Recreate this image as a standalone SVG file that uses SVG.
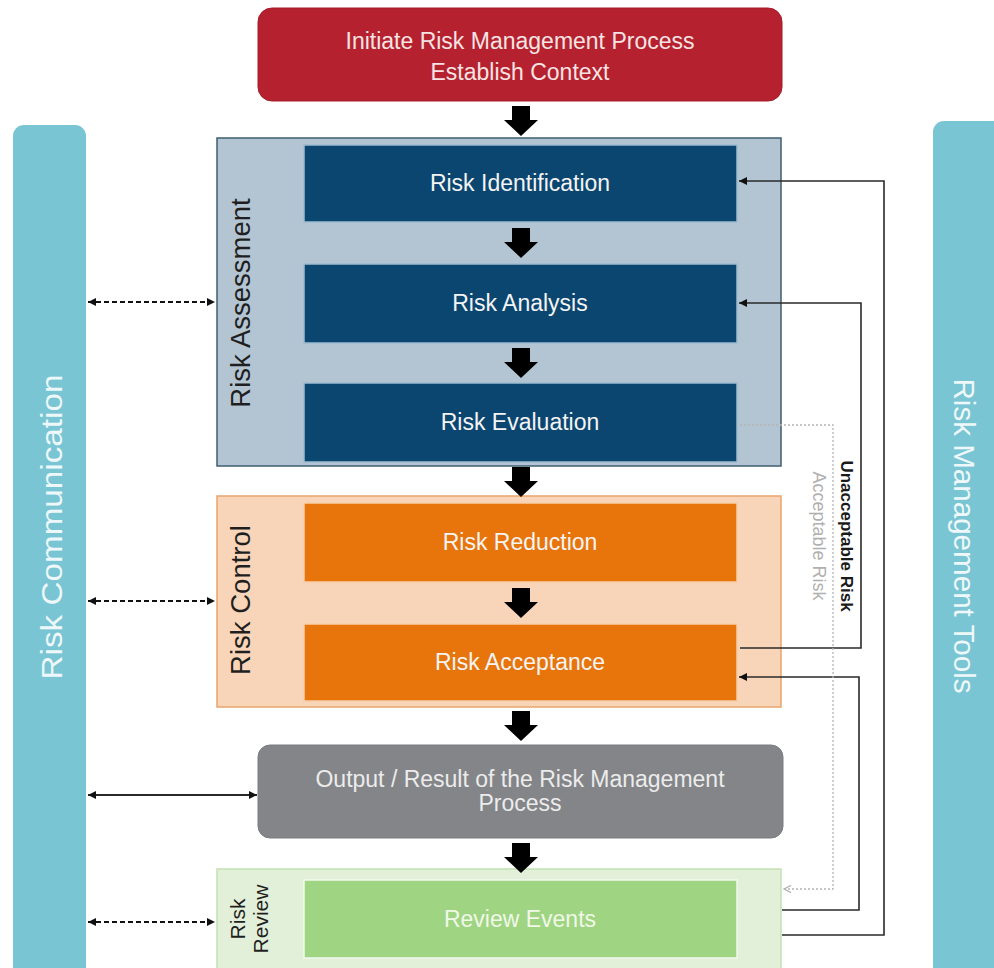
<svg xmlns="http://www.w3.org/2000/svg" width="994" height="968" viewBox="0 0 994 968">
<defs>
<style>
text{font-family:"Liberation Sans",Arial,sans-serif}
.nt{font-size:23px;fill:#f4f4f4;text-anchor:middle}
.sec{font-size:27.5px;fill:#1f1f1f;text-anchor:middle}
.bar{fill:#79c5d3}
.bt{font-size:30px;fill:#eef8fa;text-anchor:middle}
.navy{fill:#0b4670;stroke:#9fbcd0;stroke-width:1.5}
.orng{fill:#e8740c;stroke:#f7cfa8;stroke-width:1.5}
.ln{fill:none;stroke:#2a2a2a;stroke-width:1.6}
.dash{fill:none;stroke:#111;stroke-width:2;stroke-dasharray:5 3}
.dot{fill:none;stroke:#b4b4b4;stroke-width:1.3;stroke-dasharray:2 2}
.blk{fill:#000}
</style>
<marker id="ah" viewBox="0 0 10 10" refX="10" refY="5" markerWidth="9" markerHeight="8" markerUnits="userSpaceOnUse" orient="auto-start-reverse"><path d="M0,0 L10,5 L0,10 z" fill="#111"/></marker>
<marker id="ahg" viewBox="0 0 10 10" refX="10" refY="5" markerWidth="10" markerHeight="9" markerUnits="userSpaceOnUse" orient="auto"><path d="M1,1 L9,5 L1,9" fill="none" stroke="#b4b4b4" stroke-width="1.5"/></marker>
<path id="barrow" d="M-9,0 H9 V14 H17 L0,30 L-17,14 H-9 Z"/>
</defs>

<g id="risk-communication">
<rect class="bar" x="13" y="125" width="73" height="860" rx="11"/>
<text class="bt" transform="translate(62,527) rotate(-90)" textLength="305" lengthAdjust="spacingAndGlyphs">Risk Communication</text>
</g>

<g id="risk-management-tools">
<rect class="bar" x="933" y="121" width="80" height="864" rx="11"/>
<text class="bt" transform="translate(954,536) rotate(90)" textLength="315" lengthAdjust="spacingAndGlyphs">Risk Management Tools</text>
</g>

<g id="initiate">
<rect x="258" y="8" width="524" height="93" rx="14" fill="#b5212e" stroke="#a31d28" stroke-width="1"/>
<text class="nt" x="520" y="49" style="fill:#f6e4e4">Initiate Risk Management Process</text>
<text class="nt" x="520" y="80" style="fill:#f6e4e4">Establish Context</text>
</g>

<g id="risk-assessment">
<rect x="217" y="138" width="564" height="328" fill="#b3c5d2" stroke="#3f5d70" stroke-width="1.5"/>
<text class="sec" transform="translate(250,303) rotate(-90)">Risk Assessment</text>
</g>
<g id="risk-identification">
<rect class="navy" x="304" y="145" width="433" height="77"/>
<text class="nt" x="520" y="191">Risk Identification</text>
</g>
<g id="risk-analysis">
<rect class="navy" x="304" y="264" width="433" height="79"/>
<text class="nt" x="520" y="311">Risk Analysis</text>
</g>
<g id="risk-evaluation">
<rect class="navy" x="304" y="383" width="433" height="79"/>
<text class="nt" x="520" y="430">Risk Evaluation</text>
</g>

<g id="risk-control">
<rect x="217" y="496" width="564" height="211" fill="#f8d5b8" stroke="#e9a46b" stroke-width="1.5"/>
<text class="sec" transform="translate(250,600) rotate(-90)">Risk Control</text>
</g>
<g id="risk-reduction">
<rect class="orng" x="304" y="503" width="433" height="79"/>
<text class="nt" x="520" y="550">Risk Reduction</text>
</g>
<g id="risk-acceptance">
<rect class="orng" x="304" y="624" width="433" height="77"/>
<text class="nt" x="520" y="670">Risk Acceptance</text>
</g>

<g id="output">
<rect x="258" y="745" width="525" height="93" rx="12" fill="#838588" stroke="#7a7c7f" stroke-width="1"/>
<text class="nt" x="520" y="787" style="fill:#ececec">Output / Result of the Risk Management</text>
<text class="nt" x="520" y="811" style="fill:#ececec">Process</text>
</g>

<g id="risk-review">
<rect x="217" y="869" width="564" height="110" fill="#e3f0d9" stroke="#c4e0b1" stroke-width="1.5"/>
<text transform="translate(245,919) rotate(-90)" style="font-size:21px;fill:#1f1f1f;text-anchor:middle">Risk</text>
<text transform="translate(268,919) rotate(-90)" style="font-size:21px;fill:#1f1f1f;text-anchor:middle">Review</text>
</g>
<g id="review-events">
<rect x="304" y="880" width="433" height="78" fill="#9fd482" stroke="#f2f9ec" stroke-width="1.5"/>
<text class="nt" x="520" y="927" style="fill:#f0f8e8">Review Events</text>
</g>

<g id="connectors">
<use href="#barrow" class="blk" x="521" y="106"/>
<use href="#barrow" class="blk" x="521" y="228"/>
<use href="#barrow" class="blk" x="521" y="348"/>
<use href="#barrow" class="blk" x="521" y="467"/>
<use href="#barrow" class="blk" x="521" y="588"/>
<use href="#barrow" class="blk" x="521" y="711"/>
<use href="#barrow" class="blk" x="521" y="843"/>

<line class="dash" x1="88" y1="302" x2="215" y2="302" marker-start="url(#ah)" marker-end="url(#ah)"/>
<line class="dash" x1="88" y1="601" x2="215" y2="601" marker-start="url(#ah)" marker-end="url(#ah)"/>
<line class="ln" x1="88" y1="795" x2="257" y2="795" style="stroke-width:2" marker-start="url(#ah)" marker-end="url(#ah)"/>
<line class="dash" x1="88" y1="922" x2="215" y2="922" marker-start="url(#ah)" marker-end="url(#ah)"/>

<path class="ln" d="M782,935 H884 V181 H739" marker-end="url(#ah)"/>
<path class="ln" d="M740,648 H861 V303 H739" marker-end="url(#ah)"/>
<path class="ln" d="M782,910 H859 V677 H739" marker-end="url(#ah)"/>
<path class="dot" d="M740,425 H833 V889 H783" marker-end="url(#ahg)"/>

<text transform="translate(841,536) rotate(90)" style="font-size:17px;font-weight:bold;fill:#1a1a1a;text-anchor:middle">Unacceptable Risk</text>
<text transform="translate(813,536) rotate(90)" style="font-size:18px;fill:#b0b0b0;text-anchor:middle">Acceptable Risk</text>
</g>
</svg>
